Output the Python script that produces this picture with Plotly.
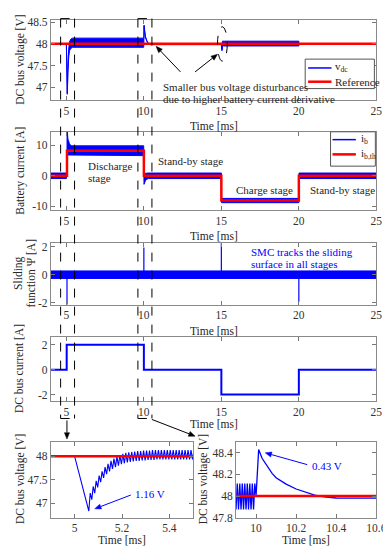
import math
import plotly.graph_objects as go

W, H = 391, 550
FONT = "Liberation Serif"
BLUE = "#0000FF"
RED = "#FF0000"
TXT = "#262626"

# ---------------- data ----------------
# Panel 1: DC bus voltage (switching ripple drawn as envelope band)
t_v = [4.0, 5.0, 5.06, 5.066, 5.1, 5.15, 5.2, 5.3, 5.4, 9.99, 10.0, 10.013, 10.05, 10.1, 10.2, 10.3, 10.4,
       15.0, 15.04, 15.07, 15.2, 20.0, 20.01, 25.0]
v_upper = [48.0, 48.0, 46.86, 47.22, 47.55, 47.88, 48.05, 48.11, 48.13, 48.13, 48.13, 48.43, 48.29, 48.17, 48.065,
           48.005, 47.985, 47.985, 47.87, 48.06, 48.06, 48.06, 47.99, 47.99]
v_lower = [48.0, 48.0, 46.84, 47.0, 47.34, 47.68, 47.84, 47.9, 47.92, 47.92, 48.0, 48.40, 48.27, 48.15, 48.05,
           47.995, 47.98, 47.98, 47.84, 47.95, 47.95, 47.95, 47.99, 47.99]
t_vref = [4.0, 25.0]
v_ref = [48.0, 48.0]

# Panel 2: battery current (envelope band) and its reference
t_ib = [4.0, 5.0, 5.04, 5.045, 5.1, 5.2, 5.3, 9.99, 10.01, 10.1, 10.2, 10.3, 15.0, 15.01, 20.0, 20.01, 25.0]
ib_upper = [0.9, 0.9, 0.9, 15.5, 12.0, 10.5, 9.8, 9.8, 0.5, 0.8, 0.9, 0.9, 0.9, -7.4, -7.4, 0.9, 0.9]
ib_lower = [-0.9, -0.9, -0.9, 7.2, 6.8, 6.6, 6.6, 6.6, -2.8, -1.6, -1.1, -0.9, -0.9, -8.8, -8.8, -0.9, -0.9]
t_ibth = [4.0, 5.04, 10.0, 15.0, 20.0, 25.0]
ibth = [0.0, 8.2, 0.0, -8.1, 0.0, 0.0]

# Panel 3: sliding function
t_psi = [4.0, 25.0]
psi_upper = [0.27, 0.27]
psi_lower = [-0.27, -0.27]
t_psi_spike = [5.04, 10.0, 15.0, 20.0]
psi_spike = [-2.5, 1.95, 2.5, -1.95]

# Panel 4: DC bus current
t_idc = [4.0, 5.02, 10.0, 15.0, 20.0, 25.0]
idc = [0.0, 2.0, 0.0, -2.0, 0.0, 0.0]

# Inset around 5 ms
inset5_t = [4.9, 5.0, 5.06, 5.066, 5.0725, 5.0785, 5.085, 5.091, 5.0975, 5.1035, 5.11, 5.116, 5.1225, 5.1285,
            5.135, 5.141, 5.1475, 5.1535, 5.16, 5.166, 5.1725, 5.1785, 5.185, 5.191, 5.1975, 5.2035, 5.21, 5.216,
            5.2225, 5.2285, 5.235, 5.241, 5.2475, 5.2535, 5.26, 5.266, 5.2725, 5.2785, 5.285, 5.291, 5.2975,
            5.3035, 5.31, 5.316, 5.3225, 5.3285, 5.335, 5.341, 5.3475, 5.3535, 5.36, 5.366, 5.3725, 5.3785,
            5.385, 5.391, 5.3975, 5.4035, 5.41, 5.416, 5.4225, 5.4285, 5.435, 5.441, 5.4475, 5.4535, 5.46,
            5.466, 5.4725, 5.4785, 5.485, 5.491, 5.4975, 5.5035]
inset5_v = [48.0, 48.0, 46.84, 47.22, 47.08, 47.36, 47.22, 47.48, 47.34, 47.59, 47.45, 47.68, 47.54, 47.77,
            47.62, 47.84, 47.68, 47.90, 47.73, 47.95, 47.77, 47.99, 47.80, 48.02, 47.83, 48.05, 47.85, 48.07,
            47.87, 48.08, 47.88, 48.09, 47.89, 48.10, 47.90, 48.11, 47.90, 48.11, 47.91, 48.12, 47.91, 48.12,
            47.92, 48.12, 47.92, 48.13, 47.92, 48.13, 47.93, 48.13, 47.93, 48.13, 47.93, 48.13, 47.93, 48.13,
            47.93, 48.13, 47.93, 48.13, 47.93, 48.13, 47.93, 48.13, 47.93, 48.13, 47.93, 48.13, 47.93, 48.13,
            47.93, 48.13, 47.93, 48.13]
inset5_ref_t = [4.9, 5.5]
inset5_ref_v = [48.0, 48.0]

# Inset around 10 ms
inset10_t = [9.9, 9.9063, 9.9125, 9.9188, 9.925, 9.9313, 9.9375, 9.9438, 9.95, 9.9563, 9.9625, 9.9688, 9.975,
             9.9813, 9.9875, 9.9938, 10.0, 10.013, 10.03, 10.05, 10.08, 10.1, 10.15, 10.2, 10.25, 10.3, 10.35,
             10.4, 10.5, 10.6]
inset10_v = [47.875, 48.115, 47.875, 48.115, 47.875, 48.115, 47.875, 48.115, 47.875, 48.115, 47.875, 48.115,
             47.875, 48.115, 47.875, 48.115, 48.0, 48.43, 48.35, 48.29, 48.21, 48.17, 48.11, 48.065, 48.035,
             48.005, 47.99, 47.982, 47.98, 47.98]
inset10_ref_t = [9.9, 10.6]
inset10_ref_v = [48.0, 48.0]

# Tick values / labels
time_ticks = [5, 10, 15, 20, 25]
time_ticklabels = ["5", "10", "15", "20", "25"]
v_ticks = [47, 47.5, 48, 48.5]
v_ticklabels = ["47", "47.5", "48", "48.5"]
ib_ticks = [-10, 0, 10]
ib_ticklabels = ["-10", "0", "10"]
psi_ticks = [-2, 0, 2]
psi_ticklabels = ["-2", "0", "2"]
idc_ticks = [-2, 0, 2]
idc_ticklabels = ["-2", "0", "2"]
in5_xticks = [5, 5.2, 5.4]
in5_xticklabels = ["5", "5.2", "5.4"]
in5_yticks = [47, 47.5, 48]
in5_yticklabels = ["47", "47.5", "48"]
in10_xticks = [10, 10.2, 10.4, 10.6]
in10_xticklabels = ["10", "10.2", "10.4", "10.6"]
in10_yticks = [47.8, 48, 48.2, 48.4]
in10_yticklabels = ["47.8", "48", "48.2", "48.4"]


# ---------------- helpers ----------------
def px(x):
    return x / W


def py(y):
    return 1 - y / H


def band(t, up, lo, xa, ya, name):
    return go.Scatter(x=list(t) + list(t)[::-1], y=list(up) + list(lo)[::-1], fill="toself",
                      fillcolor=BLUE, mode="lines", line=dict(color=BLUE, width=1),
                      xaxis=xa, yaxis=ya, name=name, showlegend=False, hoverinfo="skip")


fig = go.Figure()

# Panel 1
fig.add_trace(band(t_v, v_upper, v_lower, "x", "y", "v_dc"))
fig.add_trace(go.Scatter(x=t_vref, y=v_ref, mode="lines", line=dict(color=RED, width=2.5),
                         xaxis="x", yaxis="y", showlegend=False))
# Panel 2
fig.add_trace(band(t_ib, ib_upper, ib_lower, "x2", "y2", "i_b"))
fig.add_trace(go.Scatter(x=t_ibth, y=ibth, mode="lines", line=dict(color=RED, width=2.5, shape="hv"),
                         xaxis="x2", yaxis="y2", showlegend=False))
# Panel 3
fig.add_trace(band(t_psi, psi_upper, psi_lower, "x3", "y3", "psi"))
sx, sy = [], []
for t, s in zip(t_psi_spike, psi_spike):
    sx += [t, t, None]
    sy += [0, s, None]
fig.add_trace(go.Scatter(x=sx, y=sy, mode="lines", line=dict(color=BLUE, width=1.2),
                         xaxis="x3", yaxis="y3", showlegend=False))
# Panel 4
fig.add_trace(go.Scatter(x=t_idc, y=idc, mode="lines", line=dict(color=BLUE, width=2, shape="hv"),
                         xaxis="x4", yaxis="y4", showlegend=False))
# Inset 5 ms
fig.add_trace(go.Scatter(x=inset5_t, y=inset5_v, mode="lines", line=dict(color=BLUE, width=1.1),
                         xaxis="x5", yaxis="y5", showlegend=False))
fig.add_trace(go.Scatter(x=inset5_ref_t, y=inset5_ref_v, mode="lines", line=dict(color=RED, width=2.5),
                         xaxis="x5", yaxis="y5", showlegend=False))
# Inset 10 ms
fig.add_trace(go.Scatter(x=inset10_t, y=inset10_v, mode="lines", line=dict(color=BLUE, width=1.3),
                         xaxis="x6", yaxis="y6", showlegend=False))
fig.add_trace(go.Scatter(x=inset10_ref_t, y=inset10_ref_v, mode="lines", line=dict(color=RED, width=2.5),
                         xaxis="x6", yaxis="y6", showlegend=False))


def axis(domain, rng, tv, tt, anchor):
    return dict(domain=domain, range=rng, tickvals=tv, ticktext=tt, ticks="inside", ticklen=4,
                tickcolor="#777", showline=True, linecolor="#8a8a8a", linewidth=1, mirror="ticks",
                showgrid=False, zeroline=False, anchor=anchor,
                tickfont=dict(family=FONT, size=11.5, color="#333333"))


XD = [px(44), px(378)]
panels = [  # (top, bottom) pixels
    (8, 90), (122, 202), (235, 298), (331, 396)]
yranges = [[46.7, 48.55], [-11.3, 14.4], [-2.15, 2.3], [-2.5, 2.62]]
yt = [(v_ticks, v_ticklabels), (ib_ticks, ib_ticklabels), (psi_ticks, psi_ticklabels), (idc_ticks, idc_ticklabels)]

layout = dict(width=W, height=H, margin=dict(l=0, r=0, t=0, b=0), paper_bgcolor="white",
              plot_bgcolor="white", showlegend=False)
for i, ((top, bot), yr, (tv, tt)) in enumerate(zip(panels, yranges, yt), start=1):
    sfx = "" if i == 1 else str(i)
    layout["xaxis" + sfx] = axis(XD, [4, 25], time_ticks, time_ticklabels, "y" + sfx)
    layout["yaxis" + sfx] = axis([py(bot), py(top)], yr, tv, tt, "x" + sfx)

layout["xaxis5"] = axis([px(44), px(190)], [4.9, 5.5], in5_xticks, in5_xticklabels, "y5")
layout["yaxis5"] = axis([py(515), py(438)], [46.7, 48.3], in5_yticks, in5_yticklabels, "x5")
layout["xaxis6"] = axis([px(234), px(378)], [9.9, 10.6], in10_xticks, in10_xticklabels, "y6")
layout["yaxis6"] = axis([py(515), py(438)], [47.8, 48.5], in10_yticks, in10_yticklabels, "x6")
fig.update_layout(**layout)

ann = []
shapes = []


def text(x, y, s, size=11.5, color=TXT, angle=0, xanchor="center"):
    ann.append(dict(x=px(x), y=py(y), xref="paper", yref="paper", text=s, showarrow=False,
                    textangle=angle, xanchor=xanchor, yanchor="middle",
                    font=dict(family=FONT, size=size, color=color)))


def pline(x0, y0, x1, y1, color="black", width=1, dash=None):
    shapes.append(dict(type="line", xref="paper", yref="paper", x0=px(x0), y0=py(y0), x1=px(x1), y1=py(y1),
                       line=dict(color=color, width=width, dash=dash)))


def arrow(hx, hy, tx, ty, color="black", width=1, hl=6.5, hw=2.6):
    # arrow drawn as a line shape plus a filled triangular head (pixel coords)
    dx, dy = hx - tx, hy - ty
    L = math.hypot(dx, dy)
    ux, uy = dx / L, dy / L
    bx, by = hx - ux * hl, hy - uy * hl
    pline(tx, ty, bx, by, color, width)
    p1 = (bx - uy * hw, by + ux * hw)
    p2 = (bx + uy * hw, by - ux * hw)
    path = "M {} {} L {} {} L {} {} Z".format(px(hx), py(hy), px(p1[0]), py(p1[1]), px(p2[0]), py(p2[1]))
    shapes.append(dict(type="path", xref="paper", yref="paper", path=path, fillcolor=color,
                       line=dict(color=color, width=0.5)))


# axis titles
for yc in [116, 228, 325, 420]:
    text(211, yc, "Time [ms]")
text(117, 538, "Time [ms]")
text(306, 538, "Time [ms]")
text(12, 49, "DC bus voltage [V]", angle=-90)
text(12, 162, "Battery current [A]", angle=-90)
text(10, 266, "Sliding", angle=-90)
text(24, 266, "function Ψ [A]", angle=-90)
text(12, 363, "DC bus current [A]", angle=-90)
text(13, 476, "DC bus voltage [V]", angle=-90)
text(200, 476, "DC bus voltage [V]", angle=-90)

# panel annotations
text(157, 76, "Smaller bus voltage disturbances", size=11, xanchor="left")
text(157, 89, "due to higher battery current derivative", size=11, xanchor="left")
arrow(152, 35, 177, 61)
arrow(215, 43, 192, 61)

text(80, 157, "Discharge", size=11, xanchor="left")
text(80, 169.5, "stage", size=11, xanchor="left")
text(152, 152, "Stand-by stage", size=11, xanchor="left")
text(232, 181, "Charge stage", size=11, xanchor="left")
text(308, 181, "Stand-by stage", size=11, xanchor="left")

text(247, 244, "SMC tracks the sliding", size=11, color=BLUE, xanchor="left")
text(247, 257, "surface in all stages", size=11, color=BLUE, xanchor="left")

text(128, 491, "1.16 V", size=11, color=BLUE, xanchor="left")
arrow(89, 506, 126, 492, color=BLUE)
text(310, 462, "0.43 V", size=11, color=BLUE, xanchor="left")
arrow(264, 449, 307, 461, color=BLUE)

# zoom arrows
arrow(60.5, 435, 60.5, 416)
arrow(192, 432, 147.7, 415)

# legends
shapes.append(dict(type="rect", xref="paper", yref="paper", x0=px(305), x1=px(376), y0=py(78), y1=py(48),
                   line=dict(color="#555", width=1), fillcolor="white", layer="above"))
shapes.append(dict(type="rect", xref="paper", yref="paper", x0=px(331), x1=px(377), y0=py(157), y1=py(122),
                   line=dict(color="#555", width=1), fillcolor="white", layer="above"))
pline(308, 57, 332, 57, BLUE, 1.5)
pline(308, 71, 332, 71, RED, 2.5)
pline(333, 130, 357, 130, BLUE, 1.5)
pline(333, 145, 357, 145, RED, 2.5)
text(334, 56, "v<sub>dc</sub>", size=11, xanchor="left")
text(334, 71, "Reference", size=11, xanchor="left")
text(360, 129, "i<sub>b</sub>", size=11, xanchor="left")
text(360, 145, "i<sub>b,th</sub>", size=11, xanchor="left")

# dashed zoom boxes
TOP, BOT = 6.7, 414
for xa, xb in [(54, 68.3), (133.3, 147.7)]:
    pline(xa, TOP, xa, BOT, dash="dash")
    pline(xb, TOP, xb, BOT, dash="dash")
    pline(xa, TOP, xb, TOP, dash="dash")
    pline(xa, BOT, xb, BOT, dash="dash")

# dashed ellipse near 15 ms
shapes.append(dict(type="circle", xref="paper", yref="paper", x0=px(215), x1=px(225), y0=py(50), y1=py(15),
                   line=dict(color="black", width=1, dash="dash")))

fig.update_layout(annotations=ann, shapes=shapes)
fig.write_html("out.html")
